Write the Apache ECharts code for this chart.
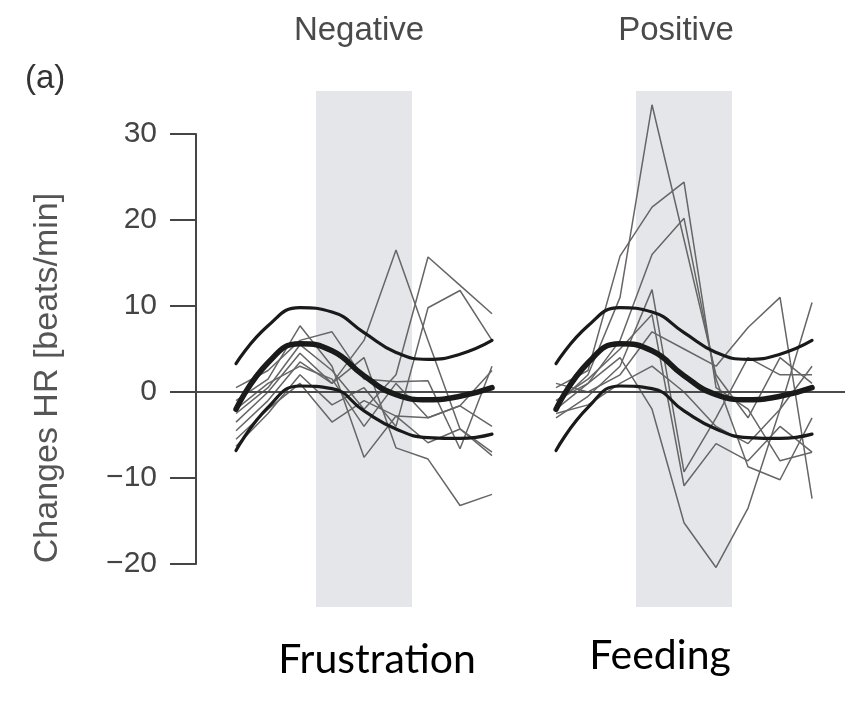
<!DOCTYPE html>
<html>
<head>
<meta charset="utf-8">
<script src="https://cdn.jsdelivr.net/npm/echarts@6/dist/echarts.min.js"></script>
<style>
  html, body { margin: 0; padding: 0; background: #ffffff; }
  #chart { width: 845px; height: 705px; }
</style>
</head>
<body>
<div id="chart"></div>
<script>
// Heart-rate change around a stimulus, two conditions
const panelNames = ['Negative', 'Positive'];
const conditionNames = ['Frustration', 'Feeding'];
const panelLabel = '(a)';
const yTitle = 'Changes HR [beats/min]';

// sample steps within each condition window
const steps = [0, 1, 2, 3, 4, 5, 6, 7, 8];
// stimulus period (in steps)
const stimulusStart = 2.5;
const stimulusEnd = 5.5;

const yTicks = [-20, -10, 0, 10, 20, 30];

// model fit: mean and confidence bounds
const fitUpper = [3.3, 7.7, 9.8, 9.3, 6.9, 4.6, 3.8, 4.4, 6.0];
const fitMean  = [-2.0, 3.4, 5.6, 4.8, 1.9, -0.3, -0.9, -0.5, 0.5];
const fitLower = [-6.8, -1.8, 0.7, 0.4, -2.2, -4.3, -5.3, -5.4, -4.9];

// individual traces, negative condition
const negTrace1 = [-1.0, 1.5, 7.7, 3.0, -7.6, -2.8, -3.0, -1.6, -4.0];
const negTrace2 = [-4.5, -1.0, 3.5, 1.0, 6.0, 16.5, 6.0, -4.3, -7.4];
const negTrace3 = [-2.5, 0.5, 5.5, 2.5, -2.0, 2.0, 15.7, 12.4, 9.1];
const negTrace4 = [-6.3, -2.5, 2.0, -1.5, 0.5, -4.0, 9.8, 11.8, 6.0];
const negTrace5 = [-3.5, 0.0, 4.5, 1.0, 4.0, -6.5, -7.8, -13.2, -11.9];
const negTrace6 = [0.5, 2.5, 6.0, 7.0, 1.5, 1.2, 1.3, -6.6, 3.0];
const negTrace7 = [-5.5, -2.0, 1.0, -3.5, -1.0, -2.8, -5.9, -4.3, -7.0];
const negTrace8 = [-2.0, 1.0, 3.0, 1.5, -4.0, 1.0, -3.0, -1.6, 2.5];

// individual traces, positive condition
const posTrace1 = [-1.5, 2.0, 11.0, 33.4, 17.7, 2.0, -3.0, 4.0, 1.0];
const posTrace2 = [0.5, 2.5, 15.8, 21.5, 24.4, 0.5, -2.0, -8.0, -7.0];
const posTrace3 = [-2.0, 1.0, 6.0, 16.0, 20.2, 1.5, -8.7, -10.2, -3.0];
const posTrace4 = [-3.0, -0.5, 3.0, 11.9, -9.3, -3.0, 4.0, 2.0, 2.0];
const posTrace5 = [-1.0, 1.0, 4.0, -2.0, -15.2, -20.4, -13.5, -2.0, 3.0];
const posTrace6 = [1.0, 0.0, 2.0, 7.0, 5.0, 3.0, 7.5, 11.0, -12.4];
const posTrace7 = [-2.5, -1.5, 1.0, 3.0, 0.0, -4.0, -6.0, -2.0, 10.4];
const posTrace8 = [-1.0, 1.5, 5.0, 9.0, -10.9, -6.0, -8.0, -4.0, -7.0];

const panels = [
  { traces: [negTrace1, negTrace2, negTrace3, negTrace4, negTrace5, negTrace6, negTrace7, negTrace8] },
  { traces: [posTrace1, posTrace2, posTrace3, posTrace4, posTrace5, posTrace6, posTrace7, posTrace8] }
];
const panelGap = 10; // step offset between the two condition windows

const chart = echarts.init(document.getElementById('chart'), null, { renderer: 'canvas' });

const toPoints = (vals, offset) => steps.map((s, i) => [s + offset, vals[i]]);
const minus = v => String(v).replace('-', '\u2212');

const series = [];

// shaded stimulus periods and the zero reference line
series.push({
  type: 'line',
  xAxisIndex: 1, yAxisIndex: 1,
  data: [],
  silent: true,
  markArea: {
    silent: true,
    itemStyle: { color: '#e4e6e9' },
    data: panels.map((p, k) => [
      { xAxis: stimulusStart + k * panelGap },
      { xAxis: stimulusEnd + k * panelGap }
    ])
  },
  markLine: {
    silent: true,
    symbol: 'none',
    label: { show: false },
    lineStyle: { color: '#4a4a4a', width: 2, type: 'solid' },
    data: [{ yAxis: 0 }]
  }
});

panels.forEach((p, k) => {
  const off = k * panelGap;
  p.traces.forEach(tr => {
    series.push({
      type: 'line',
      xAxisIndex: 1, yAxisIndex: 1,
      data: toPoints(tr, off),
      symbol: 'none',
      silent: true,
      z: 3,
      lineStyle: { color: '#666666', width: 1.5 }
    });
  });
  [[fitUpper, 3.2], [fitLower, 3.2], [fitMean, 5.5]].forEach(([vals, w]) => {
    series.push({
      type: 'line',
      xAxisIndex: 1, yAxisIndex: 1,
      data: toPoints(vals, off),
      symbol: 'none',
      smooth: 0.5,
      silent: true,
      z: 10,
      lineStyle: { color: '#1a1a1a', width: w, cap: 'round' }
    });
  });
});

const option = {
  backgroundColor: '#ffffff',
  animation: false,
  title: [
    { text: panelNames[0], left: 354, top: 9, textAlign: 'center',
      textStyle: { fontFamily: 'Liberation Sans', fontSize: 33, fontWeight: 'normal', color: '#4a4a4a' } },
    { text: panelNames[1], left: 671, top: 9, textAlign: 'center',
      textStyle: { fontFamily: 'Liberation Sans', fontSize: 33, fontWeight: 'normal', color: '#4a4a4a' } },
    { text: panelLabel, left: 20, top: 57,
      textStyle: { fontFamily: 'Liberation Sans', fontSize: 33, fontWeight: 'normal', color: '#333333' } },
    { text: conditionNames[0], left: 372, top: 634, textAlign: 'center',
      textStyle: { fontFamily: 'Lato', fontSize: 41, fontWeight: 'normal', color: '#000000' } },
    { text: conditionNames[1], left: 655, top: 630, textAlign: 'center',
      textStyle: { fontFamily: 'Lato', fontSize: 41, fontWeight: 'normal', color: '#000000' } }
  ],
  graphic: [{
    type: 'text',
    x: 48, y: 378,
    rotation: Math.PI / 2,
    silent: true,
    style: {
      text: yTitle,
      fontFamily: 'Liberation Sans',
      fontSize: 34,
      fill: '#555555',
      align: 'center',
      verticalAlign: 'middle',
      textAlign: 'center',
      textVerticalAlign: 'middle'
    }
  }],
  grid: [
    { left: 196, top: 134, height: 430, right: 0 },
    { left: 196, top: 91, height: 516, right: 0 }
  ],
  xAxis: [
    { gridIndex: 0, type: 'value', show: false, min: 0, max: 1 },
    { gridIndex: 1, type: 'value', show: false, min: -1.25, max: 19.03 }
  ],
  yAxis: [
    {
      gridIndex: 0, type: 'value',
      min: yTicks[0], max: yTicks[yTicks.length - 1], interval: 10,
      axisLine: { show: true, lineStyle: { color: '#454545', width: 2 } },
      axisTick: { show: true, length: 26, lineStyle: { color: '#454545', width: 2 } },
      axisLabel: {
        fontFamily: 'Liberation Sans', fontSize: 30, color: '#444444', margin: 39,
        formatter: minus
      },
      splitLine: { show: false }
    },
    { gridIndex: 1, type: 'value', show: false, min: -25, max: 35 }
  ],
  series: series
};

chart.setOption(option);
</script>
</body>
</html>
